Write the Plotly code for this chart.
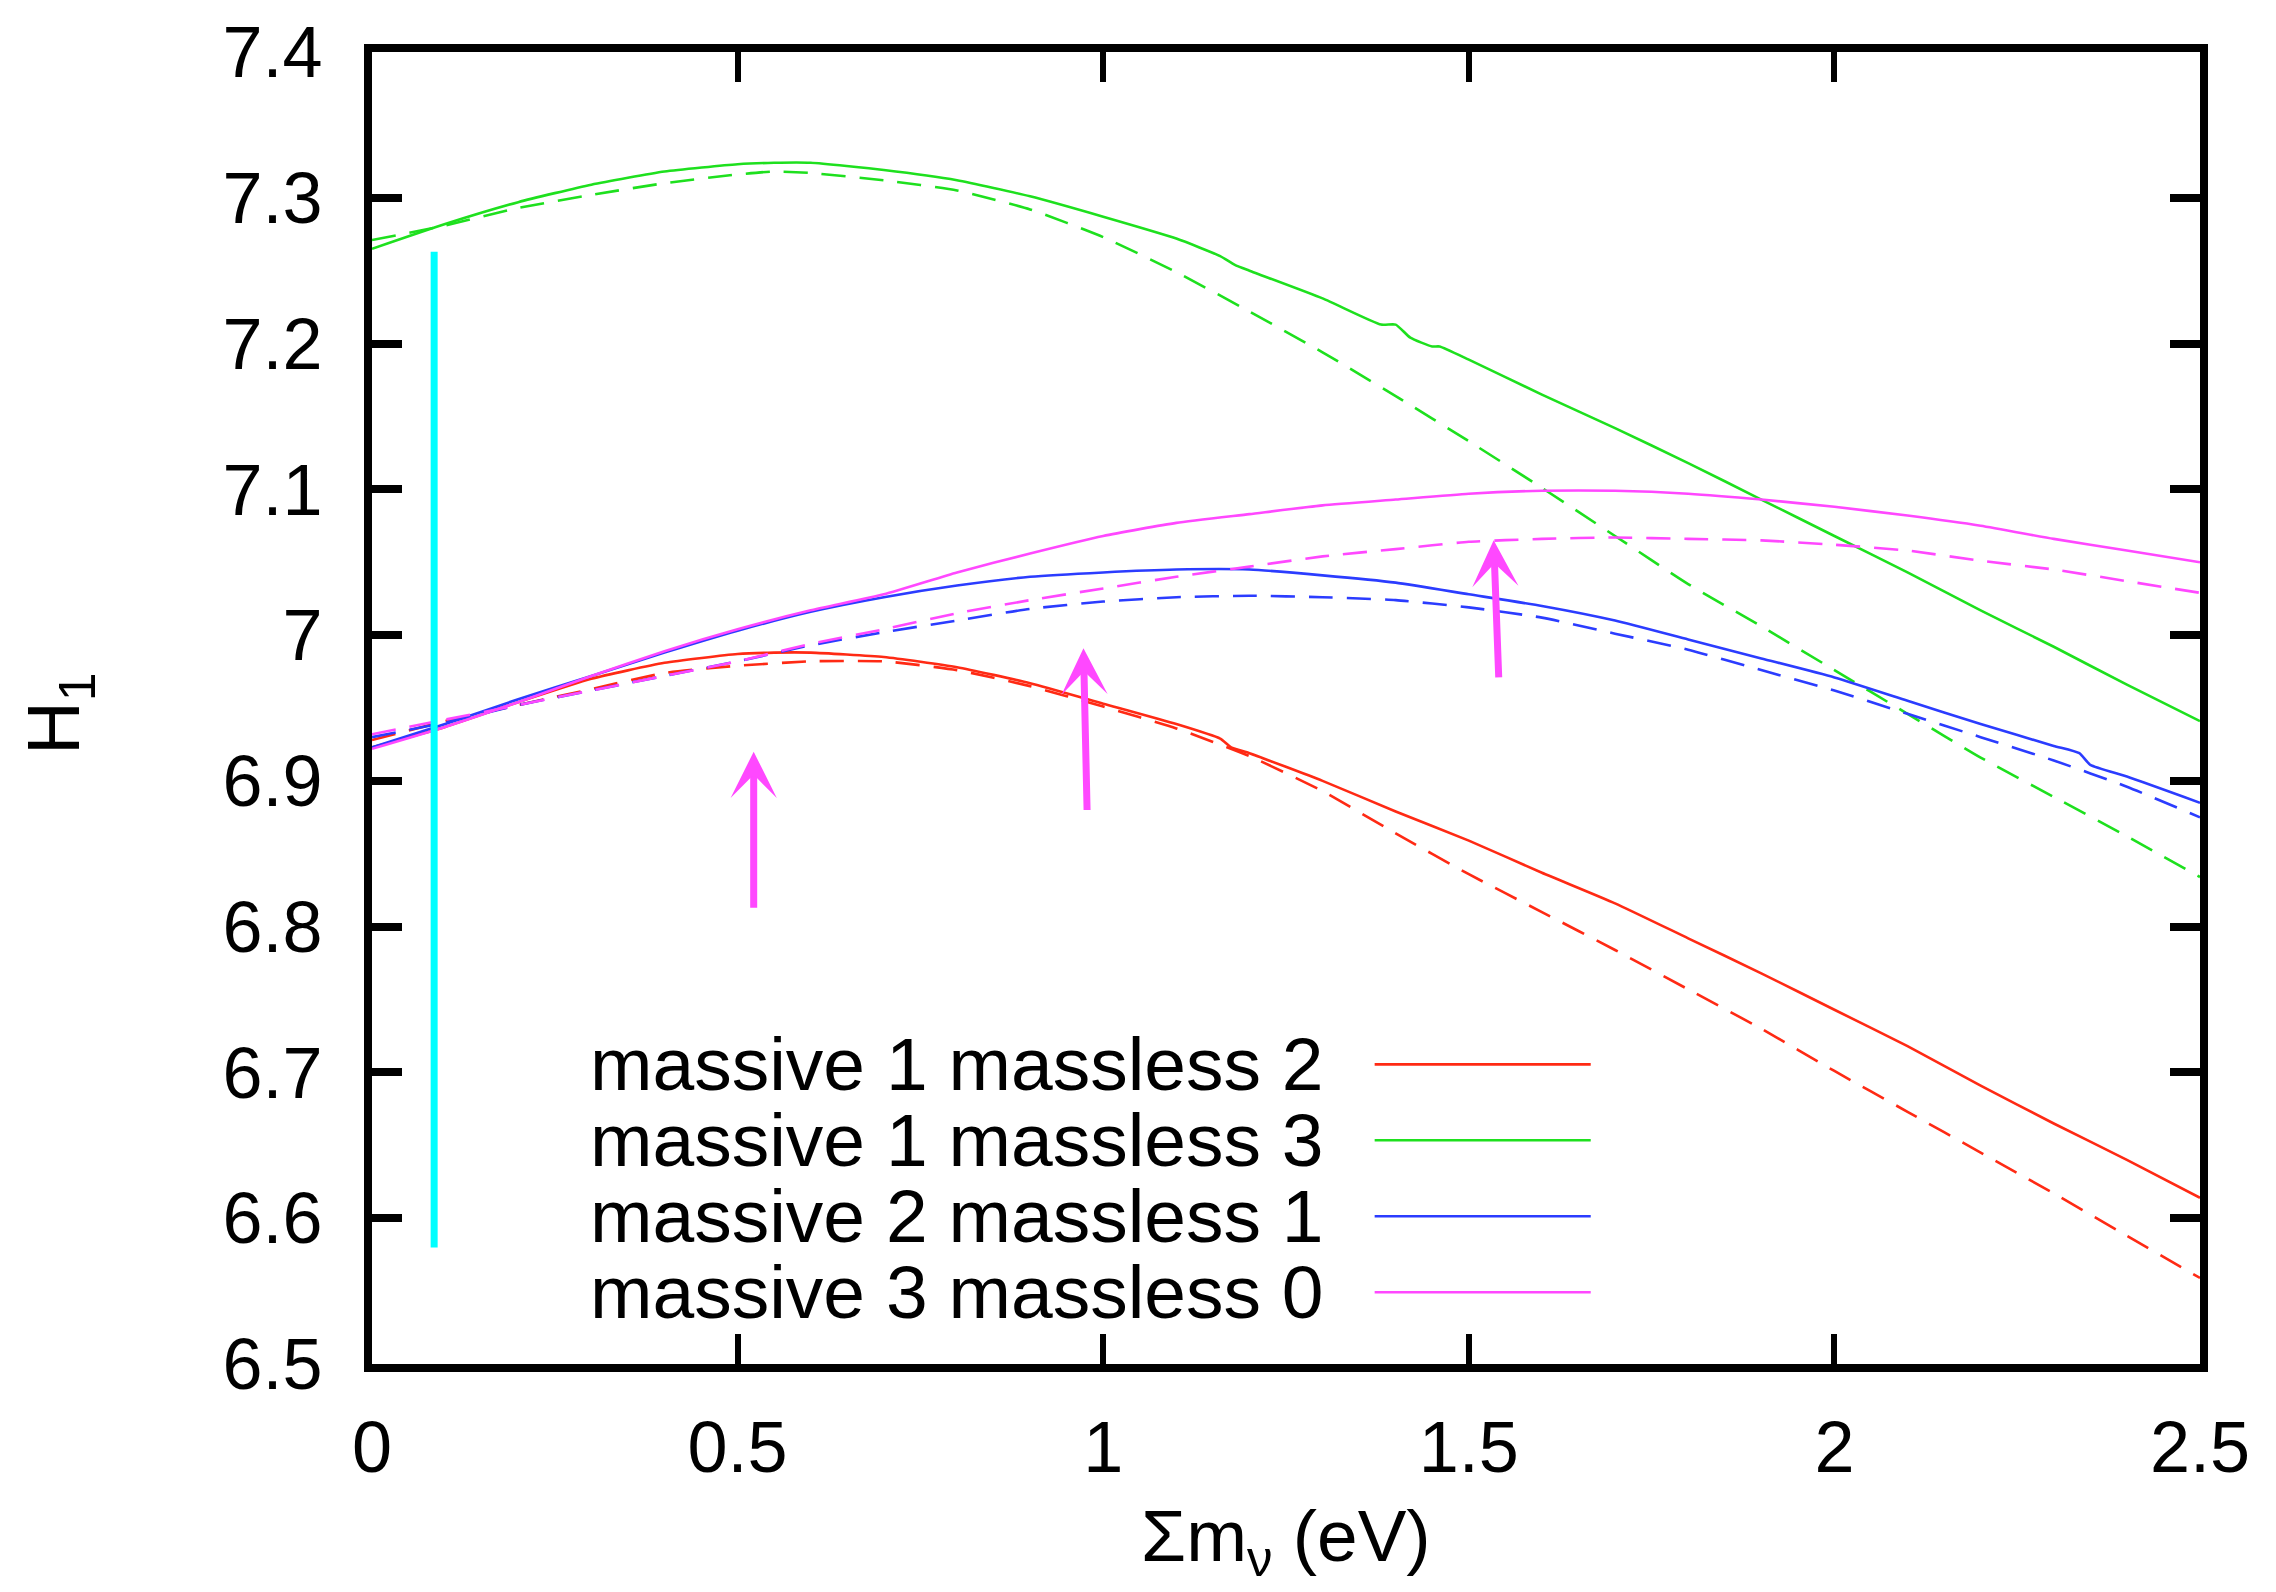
import plotly.graph_objects as go

# ---- Sum of neutrino masses (eV) and H1 for each mass configuration ----
# solid = full calculation, dashed = approximation

x_red = [0, 0.1, 0.2, 0.3, 0.4, 0.5, 0.55, 0.6, 0.7, 0.8, 0.9, 1.0, 1.1, 1.16, 1.175, 1.2,
         1.3, 1.4, 1.5, 1.6, 1.7, 1.8, 1.9, 2.0, 2.1, 2.2, 2.3, 2.4, 2.5]
h1_red = [6.923, 6.937, 6.954, 6.970, 6.981, 6.987, 6.988, 6.988, 6.985, 6.978, 6.967, 6.953,
          6.939, 6.929, 6.923, 6.919, 6.900, 6.879, 6.859, 6.837, 6.816, 6.792, 6.768, 6.743,
          6.718, 6.691, 6.665, 6.640, 6.614]

x_red_d = [0, 0.1, 0.2, 0.3, 0.4, 0.5, 0.6, 0.7, 0.8, 0.9, 1.0, 1.1, 1.2, 1.3, 1.4, 1.5,
           1.6, 1.7, 1.8, 1.9, 2.0, 2.1, 2.2, 2.3, 2.4, 2.5]
h1_red_d = [6.928, 6.941, 6.952, 6.963, 6.974, 6.979, 6.982, 6.982, 6.976, 6.965, 6.951,
            6.936, 6.917, 6.893, 6.864, 6.836, 6.810, 6.784, 6.757, 6.730, 6.701, 6.673,
            6.645, 6.617, 6.588, 6.559]

x_green = [0, 0.1, 0.2, 0.3, 0.4, 0.5, 0.55, 0.6, 0.7, 0.8, 0.9, 1.0, 1.1, 1.16, 1.18, 1.2,
           1.3, 1.38, 1.40, 1.42, 1.45, 1.46, 1.5, 1.6, 1.7, 1.8, 1.9, 2.0, 2.1, 2.2, 2.3,
           2.4, 2.5]
h1_green = [7.265, 7.282, 7.297, 7.309, 7.318, 7.323, 7.324, 7.324, 7.319, 7.312, 7.301,
            7.287, 7.272, 7.260, 7.254, 7.250, 7.231, 7.213, 7.213, 7.204, 7.198, 7.198,
            7.189, 7.165, 7.142, 7.118, 7.093, 7.068, 7.043, 7.017, 6.992, 6.966, 6.941]

x_green_d = [0, 0.1, 0.2, 0.3, 0.4, 0.5, 0.55, 0.6, 0.7, 0.8, 0.9, 1.0, 1.1, 1.2, 1.3, 1.4,
             1.5, 1.6, 1.7, 1.8, 1.9, 2.0, 2.1, 2.2, 2.3, 2.4, 2.5]
h1_green_d = [7.271, 7.281, 7.293, 7.302, 7.310, 7.316, 7.318, 7.317, 7.312, 7.305, 7.292,
              7.273, 7.249, 7.222, 7.194, 7.164, 7.133, 7.101, 7.068, 7.035, 7.006, 6.976,
              6.946, 6.916, 6.889, 6.862, 6.834]

x_blue = [0, 0.1, 0.2, 0.3, 0.4, 0.5, 0.6, 0.7, 0.8, 0.9, 1.0, 1.1, 1.2, 1.3, 1.4, 1.5,
          1.6, 1.7, 1.8, 1.9, 2.0, 2.1, 2.2, 2.3, 2.335, 2.35, 2.4, 2.5]
h1_blue = [6.923, 6.939, 6.956, 6.972, 6.988, 7.003, 7.016, 7.026, 7.034, 7.040, 7.043,
           7.045, 7.045, 7.041, 7.036, 7.028, 7.020, 7.010, 6.997, 6.984, 6.971, 6.955,
           6.939, 6.924, 6.919, 6.911, 6.903, 6.885]

x_blue_d = [0, 0.1, 0.2, 0.3, 0.4, 0.5, 0.6, 0.7, 0.8, 0.9, 1.0, 1.1, 1.2, 1.3, 1.4, 1.5,
            1.6, 1.7, 1.8, 1.9, 2.0, 2.1, 2.2, 2.3, 2.4, 2.5]
h1_blue_d = [6.930, 6.940, 6.952, 6.962, 6.972, 6.982, 6.993, 7.002, 7.010, 7.018, 7.023,
             7.026, 7.027, 7.026, 7.024, 7.019, 7.012, 7.001, 6.990, 6.976, 6.962, 6.946,
             6.930, 6.914, 6.896, 6.875]

x_mag = [0, 0.1, 0.2, 0.3, 0.4, 0.5, 0.6, 0.7, 0.8, 0.9, 1.0, 1.1, 1.2, 1.3, 1.4, 1.5,
         1.6, 1.7, 1.8, 1.9, 2.0, 2.1, 2.2, 2.3, 2.4, 2.5]
h1_mag = [6.922, 6.937, 6.954, 6.972, 6.989, 7.004, 7.017, 7.028, 7.043, 7.056, 7.068,
          7.077, 7.083, 7.089, 7.093, 7.097, 7.099, 7.099, 7.097, 7.093, 7.088, 7.082,
          7.075, 7.066, 7.058, 7.050]

x_mag_d = [0, 0.1, 0.2, 0.3, 0.4, 0.5, 0.6, 0.7, 0.8, 0.9, 1.0, 1.1, 1.2, 1.3, 1.4, 1.5,
           1.6, 1.7, 1.8, 1.9, 2.0, 2.1, 2.2, 2.3, 2.4, 2.5]
h1_mag_d = [6.932, 6.942, 6.952, 6.962, 6.972, 6.982, 6.994, 7.004, 7.015, 7.024, 7.032,
            7.040, 7.047, 7.054, 7.059, 7.064, 7.066, 7.067, 7.066, 7.065, 7.062, 7.058,
            7.051, 7.045, 7.037, 7.029]

labels = ["massive 1 massless 2", "massive 1 massless 3",
          "massive 2 massless 1", "massive 3 massless 0"]

# vertical marker line
marker_x = [0.085, 0.085]
marker_y = [6.58, 7.263]

# upward arrows: tail (x0, y0) -> head (x1, y1)
arrow_x0 = [0.522, 0.978, 1.541]
arrow_y0 = [6.812, 6.879, 6.970]
arrow_x1 = [0.522, 0.973, 1.534]
arrow_y1 = [6.920, 6.991, 7.065]

x_ticks = [0, 0.5, 1, 1.5, 2, 2.5]
x_ticktext = ["0", "0.5", "1", "1.5", "2", "2.5"]
y_ticks = [6.5, 6.6, 6.7, 6.8, 6.9, 7.0, 7.1, 7.2, 7.3, 7.4]
y_ticktext = ["6.5", "6.6", "6.7", "6.8", "6.9", "7", "7.1", "7.2", "7.3", "7.4"]

RED, GREEN, BLUE, MAGENTA, CYAN = "#ff2a14", "#1ee01e", "#2b3cff", "#ff48ff", "#00ffff"
FONT = "Liberation Sans, Arial, Helvetica, sans-serif"
LW = 2.6
DASH = "24px,14px"

series = [
    (x_red, h1_red, RED, "solid"), (x_red_d, h1_red_d, RED, DASH),
    (x_green, h1_green, GREEN, "solid"), (x_green_d, h1_green_d, GREEN, DASH),
    (x_blue, h1_blue, BLUE, "solid"), (x_blue_d, h1_blue_d, BLUE, DASH),
    (x_mag, h1_mag, MAGENTA, "solid"), (x_mag_d, h1_mag_d, MAGENTA, DASH),
]

fig = go.Figure()
for xs, ys, col, dash in series:
    fig.add_trace(go.Scatter(x=xs, y=ys, mode="lines", showlegend=False,
                             line=dict(color=col, width=LW, dash=dash,
                                       shape="spline", smoothing=0.5)))

fig.add_trace(go.Scatter(x=marker_x, y=marker_y, mode="lines", showlegend=False,
                         line=dict(color=CYAN, width=7)))

for x0, y0, x1, y1 in zip(arrow_x0, arrow_y0, arrow_x1, arrow_y1):
    fig.add_annotation(x=x1, y=y1, ax=x0, ay=y0, xref="x", yref="y", axref="x", ayref="y",
                       text="", showarrow=True, arrowhead=3, arrowsize=1.1,
                       arrowwidth=7, arrowcolor=MAGENTA)

# key: right-aligned labels with a line sample to their right
key_y = [0.2284, 0.1705, 0.1126, 0.0547]
key_cols = [RED, GREEN, BLUE, MAGENTA]
for lab, ky, col in zip(labels, key_y, key_cols):
    fig.add_annotation(x=0.5213, y=ky, xref="paper", yref="paper", text=lab,
                       showarrow=False, xanchor="right", yanchor="middle",
                       height=72, borderpad=0,
                       font=dict(family=FONT, size=75, color="black"))
    fig.add_shape(type="line", xref="paper", yref="paper", x0=0.5485, x1=0.6667,
                  y0=ky, y1=ky, line=dict(color=col, width=LW))

# axis titles
fig.add_annotation(x=0.5, y=-0.1705, xref="paper", yref="paper",
                   text="Σm<sub>ν</sub> (eV)", showarrow=False,
                   xanchor="center", yanchor="bottom", borderpad=0,
                   font=dict(family=FONT, size=73, color="black"))
fig.add_annotation(x=-0.171, y=0.496, xref="paper", yref="paper",
                   text="H<sub>1</sub>", showarrow=False, textangle=-90,
                   xanchor="center", yanchor="middle",
                   font=dict(family=FONT, size=74, color="black"))

axis_common = dict(showgrid=False, zeroline=False, showline=True, linecolor="black",
                   linewidth=8, mirror="ticks", ticks="inside", ticklen=30,
                   tickcolor="black", tickfont=dict(family=FONT, size=72, color="black"))

fig.update_xaxes(range=[0, 2.5], tickvals=x_ticks, ticktext=x_ticktext, tickwidth=6,
                 ticklabelstandoff=14, **axis_common)
fig.update_yaxes(range=[6.5, 7.4], tickvals=y_ticks, ticktext=y_ticktext, tickwidth=8,
                 ticklabelstandoff=27, **axis_common)

fig.update_layout(width=2276, height=1592, autosize=False,
                  margin=dict(l=372, r=76, t=40, b=228, pad=0),
                  plot_bgcolor="white", paper_bgcolor="white",
                  font=dict(family=FONT, color="black"))

fig.write_html("out.html")
